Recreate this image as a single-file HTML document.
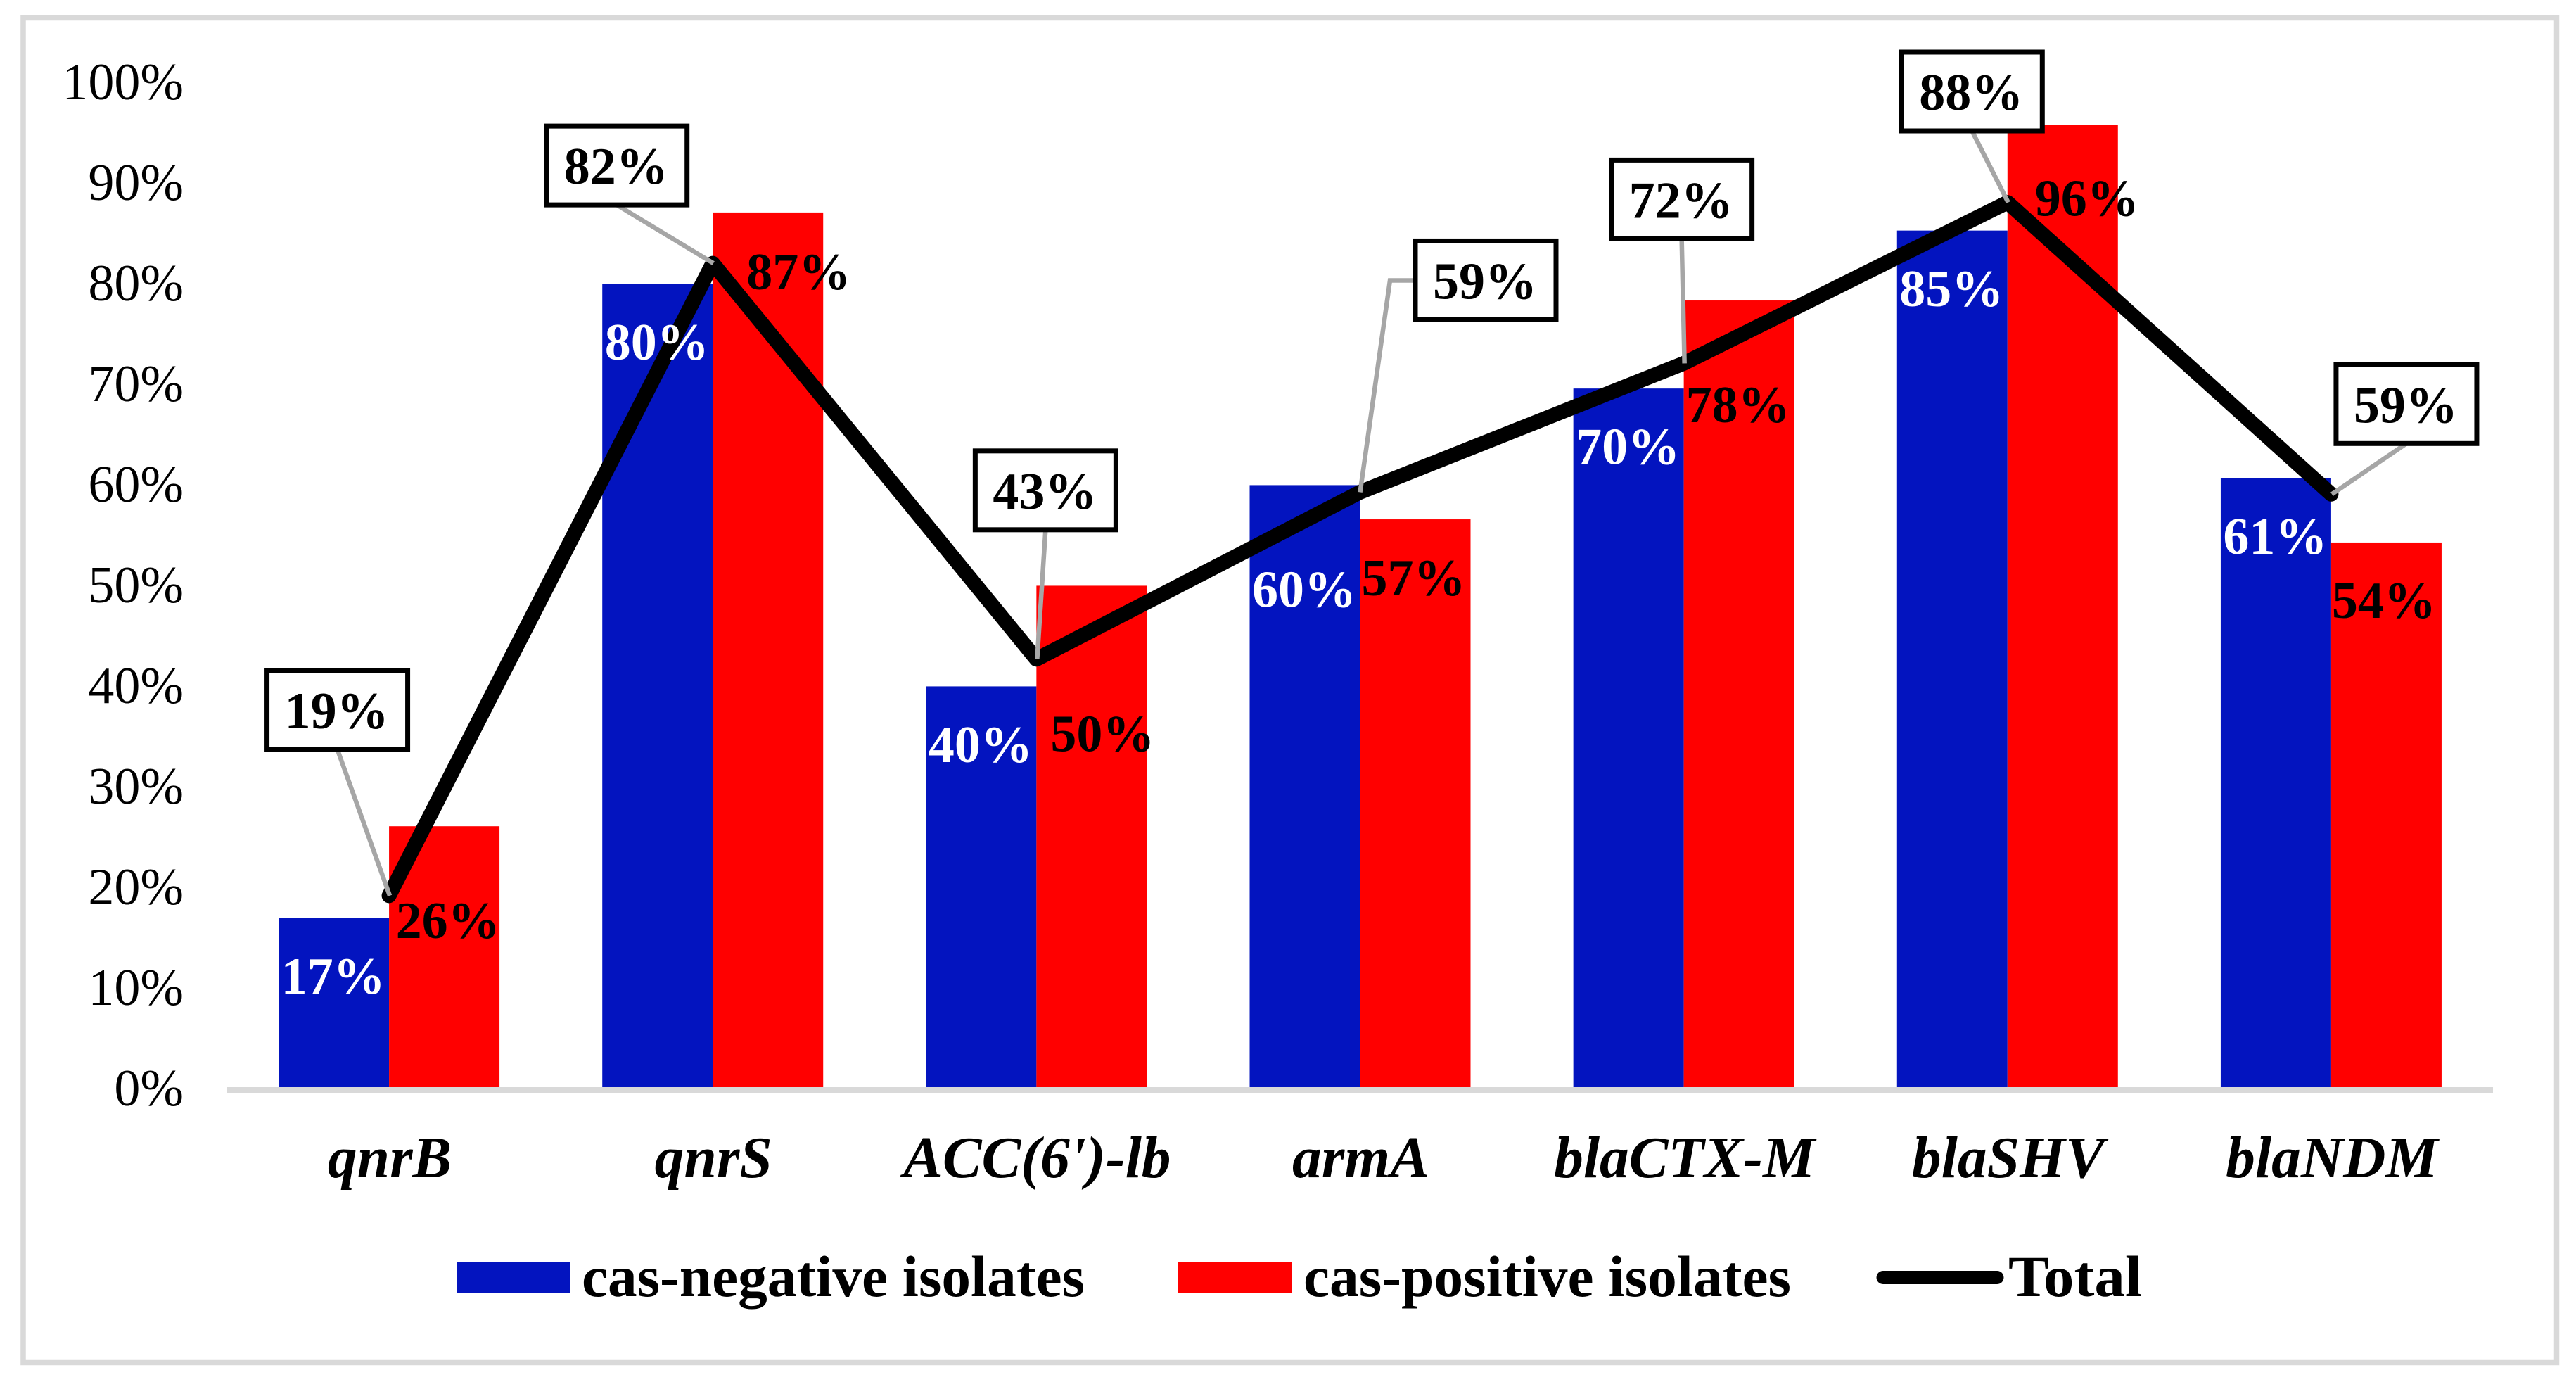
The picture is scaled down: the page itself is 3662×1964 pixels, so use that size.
<!DOCTYPE html>
<html lang="en">
<head>
<meta charset="utf-8">
<title>Resistance gene prevalence by cas status</title>
<style>
html,body{margin:0;padding:0;background:#fff;}
svg{display:block;font-family:"Liberation Serif",serif;}
</style>
</head>
<body>
<svg id="chart" xmlns="http://www.w3.org/2000/svg" width="3662" height="1964" viewBox="0 0 3662 1964">
  <rect x="0" y="0" width="3662" height="1964" fill="#ffffff"/>
  <rect x="33" y="25.5" width="3601.5" height="1911" fill="#ffffff" stroke="#d9d9d9" stroke-width="7.5"/>
  <g id="bars"></g>
  <rect x="323" y="1545" width="3221" height="8" fill="#d9d9d9"/>
  <g id="ticks"></g>
  <g id="categories"></g>
  <g id="line"></g>
  <g id="leaders"></g>
  <g id="barLabels"></g>
  <g id="callouts"></g>
  <g font-weight="bold" font-size="83">
    <g>
      <rect x="650" y="1794" width="161" height="43" fill="#0314bf"/>
      <text x="827" y="1842" fill="#000" textLength="715" lengthAdjust="spacingAndGlyphs">cas-negative isolates</text>
    </g>
    <g>
      <rect x="1675" y="1794" width="161" height="43" fill="#ff0000"/>
      <text x="1853" y="1842" fill="#000" textLength="693" lengthAdjust="spacingAndGlyphs">cas-positive isolates</text>
    </g>
    <g>
      <line x1="2677" y1="1815.5" x2="2839" y2="1815.5" stroke="#000" stroke-width="19" stroke-linecap="round"/>
      <text x="2855" y="1842" fill="#000" textLength="190" lengthAdjust="spacingAndGlyphs">Total</text>
    </g>
  </g>
</svg>
<script>
// ---- chart data ----
const categories = ['qnrB', 'qnrS', "ACC(6')-lb", 'armA', 'blaCTX-M', 'blaSHV', 'blaNDM'];
const casNegative = [16.9, 79.9, 39.9, 59.9, 69.5, 85.2, 60.6];
const casPositive = [26.0, 87.0, 49.9, 56.5, 78.25, 95.7, 54.2];
const total = [19.1, 81.95, 42.6, 59.2, 72.0, 88.0, 59.0];
const yTicks = [0, 10, 20, 30, 40, 50, 60, 70, 80, 90, 100];

// ---- layout (not data): manual label placement from the original chart ----
const blueLabelDrop = [107.5, 107.5, 107.5, 173, 107.5, 107.5, 107.5];
const redLabelShiftX = [5, 43.5, 15.5, -2.5, -1.5, 34.5, -3.5];
const redLabelDrop = [159, 109, 235, 108, 173, 129, 107];
const calloutShiftX = [-73.5, -136.5, 13, 178.5, -3, -50.5, 107];
const calloutShiftY = [-264, -139, -240, -301, -233, -157.6, -128];

const NS = 'http://www.w3.org/2000/svg';
const plotLeft = 323, plotWidth = 3221, y0 = 1546, yScale = 14.3;
const groupWidth = plotWidth / categories.length;
const barWidth = 157;
const boxW = 200, boxH = 112;

function xCenter(i) { return plotLeft + groupWidth * (i + 0.5); }
function yPos(v) { return y0 - v * yScale; }
function pct(v) { return Math.round(v) + '%'; }
function make(tag, attrs, parent, content) {
  const el = document.createElementNS(NS, tag);
  for (const k in attrs) el.setAttribute(k, attrs[k]);
  if (content !== undefined) el.textContent = content;
  parent.appendChild(el);
  return el;
}

const barsG = document.getElementById('bars');
const ticksG = document.getElementById('ticks');
const catsG = document.getElementById('categories');
const lineG = document.getElementById('line');
const leadersG = document.getElementById('leaders');
const labelsG = document.getElementById('barLabels');
const calloutsG = document.getElementById('callouts');

yTicks.forEach(function (t) {
  const el = make('text', { x: 261, y: yPos(t) + 25, 'text-anchor': 'end', 'font-size': 74, fill: '#000' }, ticksG, t + '%');
  
  
});

categories.forEach(function (c, i) {
  const cx = xCenter(i);

  const blue = make('rect', { x: cx - barWidth, y: yPos(casNegative[i]), width: barWidth, height: y0 - yPos(casNegative[i]), fill: '#0314bf' }, barsG);
  
  

  const red = make('rect', { x: cx, y: yPos(casPositive[i]), width: barWidth, height: y0 - yPos(casPositive[i]), fill: '#ff0000' }, barsG);
  
  

  const cat = make('text', { x: cx + 1, y: 1673, 'text-anchor': 'middle', 'font-size': 83.5, 'font-weight': 'bold', 'font-style': 'italic', fill: '#000' }, catsG, c);
  
  

  const blueLabel = make('text', { x: cx - barWidth / 2 - 1, y: yPos(casNegative[i]) + blueLabelDrop[i], 'text-anchor': 'middle', 'font-size': 74, 'font-weight': 'bold', fill: '#fff' }, labelsG, pct(casNegative[i]));
  
  

  const redLabel = make('text', { x: cx + barWidth / 2 + redLabelShiftX[i], y: yPos(casPositive[i]) + redLabelDrop[i], 'text-anchor': 'middle', 'font-size': 74, 'font-weight': 'bold', fill: '#000' }, labelsG, pct(casPositive[i]));
  
  

  // callout leader + box for the Total series
  const px = cx, py = yPos(total[i]);
  const bx = px + calloutShiftX[i], by = py + calloutShiftY[i];
  let leaderPoints;
  if (calloutShiftX[i] > 150) {
    leaderPoints = [[bx - boxW / 2, by], [bx - boxW / 2 - 36, by], [px, py]];
  } else {
    leaderPoints = [[bx, by + boxH / 2], [px + 1, py]];
  }
  const leader = make('polyline', { points: leaderPoints.map(function (p) { return p.join(','); }).join(' '), fill: 'none', stroke: '#a6a6a6', 'stroke-width': 6.5 }, leadersG);
  
  

  const box = make('rect', { x: bx - boxW / 2, y: by - boxH / 2, width: boxW, height: boxH, fill: '#fff', stroke: '#000', 'stroke-width': 7 }, calloutsG);
  
  

  const boxText = make('text', { x: bx - 1, y: by + 26, 'text-anchor': 'middle', 'font-size': 74, 'font-weight': 'bold', fill: '#000' }, calloutsG, pct(total[i]));
  
  
});

const totalLine = make('polyline', {
  points: total.map(function (v, i) { return xCenter(i) + ',' + yPos(v); }).join(' '),
  fill: 'none', stroke: '#000', 'stroke-width': 21, 'stroke-linejoin': 'round', 'stroke-linecap': 'round'
}, lineG);


</script>
</body>
</html>
